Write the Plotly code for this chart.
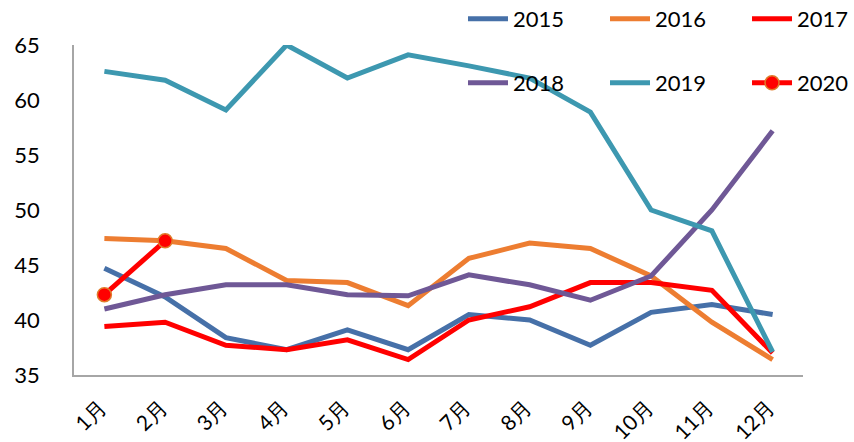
import plotly.graph_objects as go

months = ["1月", "2月", "3月", "4月", "5月", "6月", "7月", "8月", "9月", "10月", "11月", "12月"]
y2015 = [44.7, 42.1, 38.4, 37.3, 39.1, 37.3, 40.5, 40.0, 37.7, 40.7, 41.4, 40.5]
y2016 = [47.4, 47.2, 46.5, 43.6, 43.4, 41.3, 45.6, 47.0, 46.5, 44.0, 39.8, 36.4]
y2017 = [39.4, 39.8, 37.7, 37.3, 38.2, 36.4, 40.0, 41.2, 43.4, 43.4, 42.7, 37.0]
y2018 = [41.0, 42.3, 43.2, 43.2, 42.3, 42.2, 44.1, 43.2, 41.8, 44.0, 50.0, 57.2]
y2019 = [62.6, 61.8, 59.1, 65.0, 62.0, 64.1, 63.1, 62.0, 58.9, 50.0, 48.1, 37.1]
y2020 = [42.3, 47.2]

colors = {"2015": "#4670A8", "2016": "#ED7D31", "2017": "#FF0000",
          "2018": "#6F5896", "2019": "#3D98B0", "2020": "#FF0000"}

series = [("2015", y2015), ("2016", y2016), ("2017", y2017),
          ("2018", y2018), ("2019", y2019)]

fig = go.Figure()
for i, (name, ys) in enumerate(series):
    lg = "legend" if i == 0 else f"legend{i+1}"
    fig.add_trace(go.Scatter(x=months, y=ys, name=name, mode="lines",
                             line=dict(color=colors[name], width=5), legend=lg))
fig.add_trace(go.Scatter(x=months[:len(y2020)], y=y2020, name="2020", mode="lines+markers",
                         line=dict(color=colors["2020"], width=5),
                         marker=dict(size=14, color="#FF0000", line=dict(color="#E07B2A", width=1.5)),
                         legend="legend6"))

font = "Lato, 'Open Sans', sans-serif"
common = dict(orientation="h", xanchor="left", yanchor="middle",
              font=dict(size=22, color="#000000", family=font),
              bgcolor="rgba(0,0,0,0)", itemwidth=40)

xs = [0.5336, 0.7284, 0.9232]
ys_leg = [1.0788, 0.8848]
legends = {}
for i in range(6):
    key = "legend" if i == 0 else f"legend{i+1}"
    legends[key] = dict(x=xs[i % 3], y=ys_leg[i // 3], **common)

fig.update_layout(
    width=854, height=442,
    showlegend=True,
    margin=dict(l=74, r=51, t=45, b=67, autoexpand=False),
    paper_bgcolor="white", plot_bgcolor="white",
    font=dict(family=font, size=22, color="#000000"),
    xaxis=dict(type="category", range=[-0.5, 11.5], showgrid=False, showline=True,
               linecolor="#A6A6A6", linewidth=1.5,
               tickangle=-45, ticks="", ticklabelstandoff=10, ticklabelshift=-4,
               tickfont=dict(size=21, family=font)),
    yaxis=dict(range=[35, 65], dtick=5, showgrid=False, showline=True, linecolor="#A6A6A6",
               linewidth=1.5, ticks="", zeroline=False, ticklabelstandoff=28,
               tickfont=dict(size=22, family=font)),
    **legends,
)

fig.write_html("out.html", config={"displayModeBar": False},
               post_script="document.body.style.margin='0';")
